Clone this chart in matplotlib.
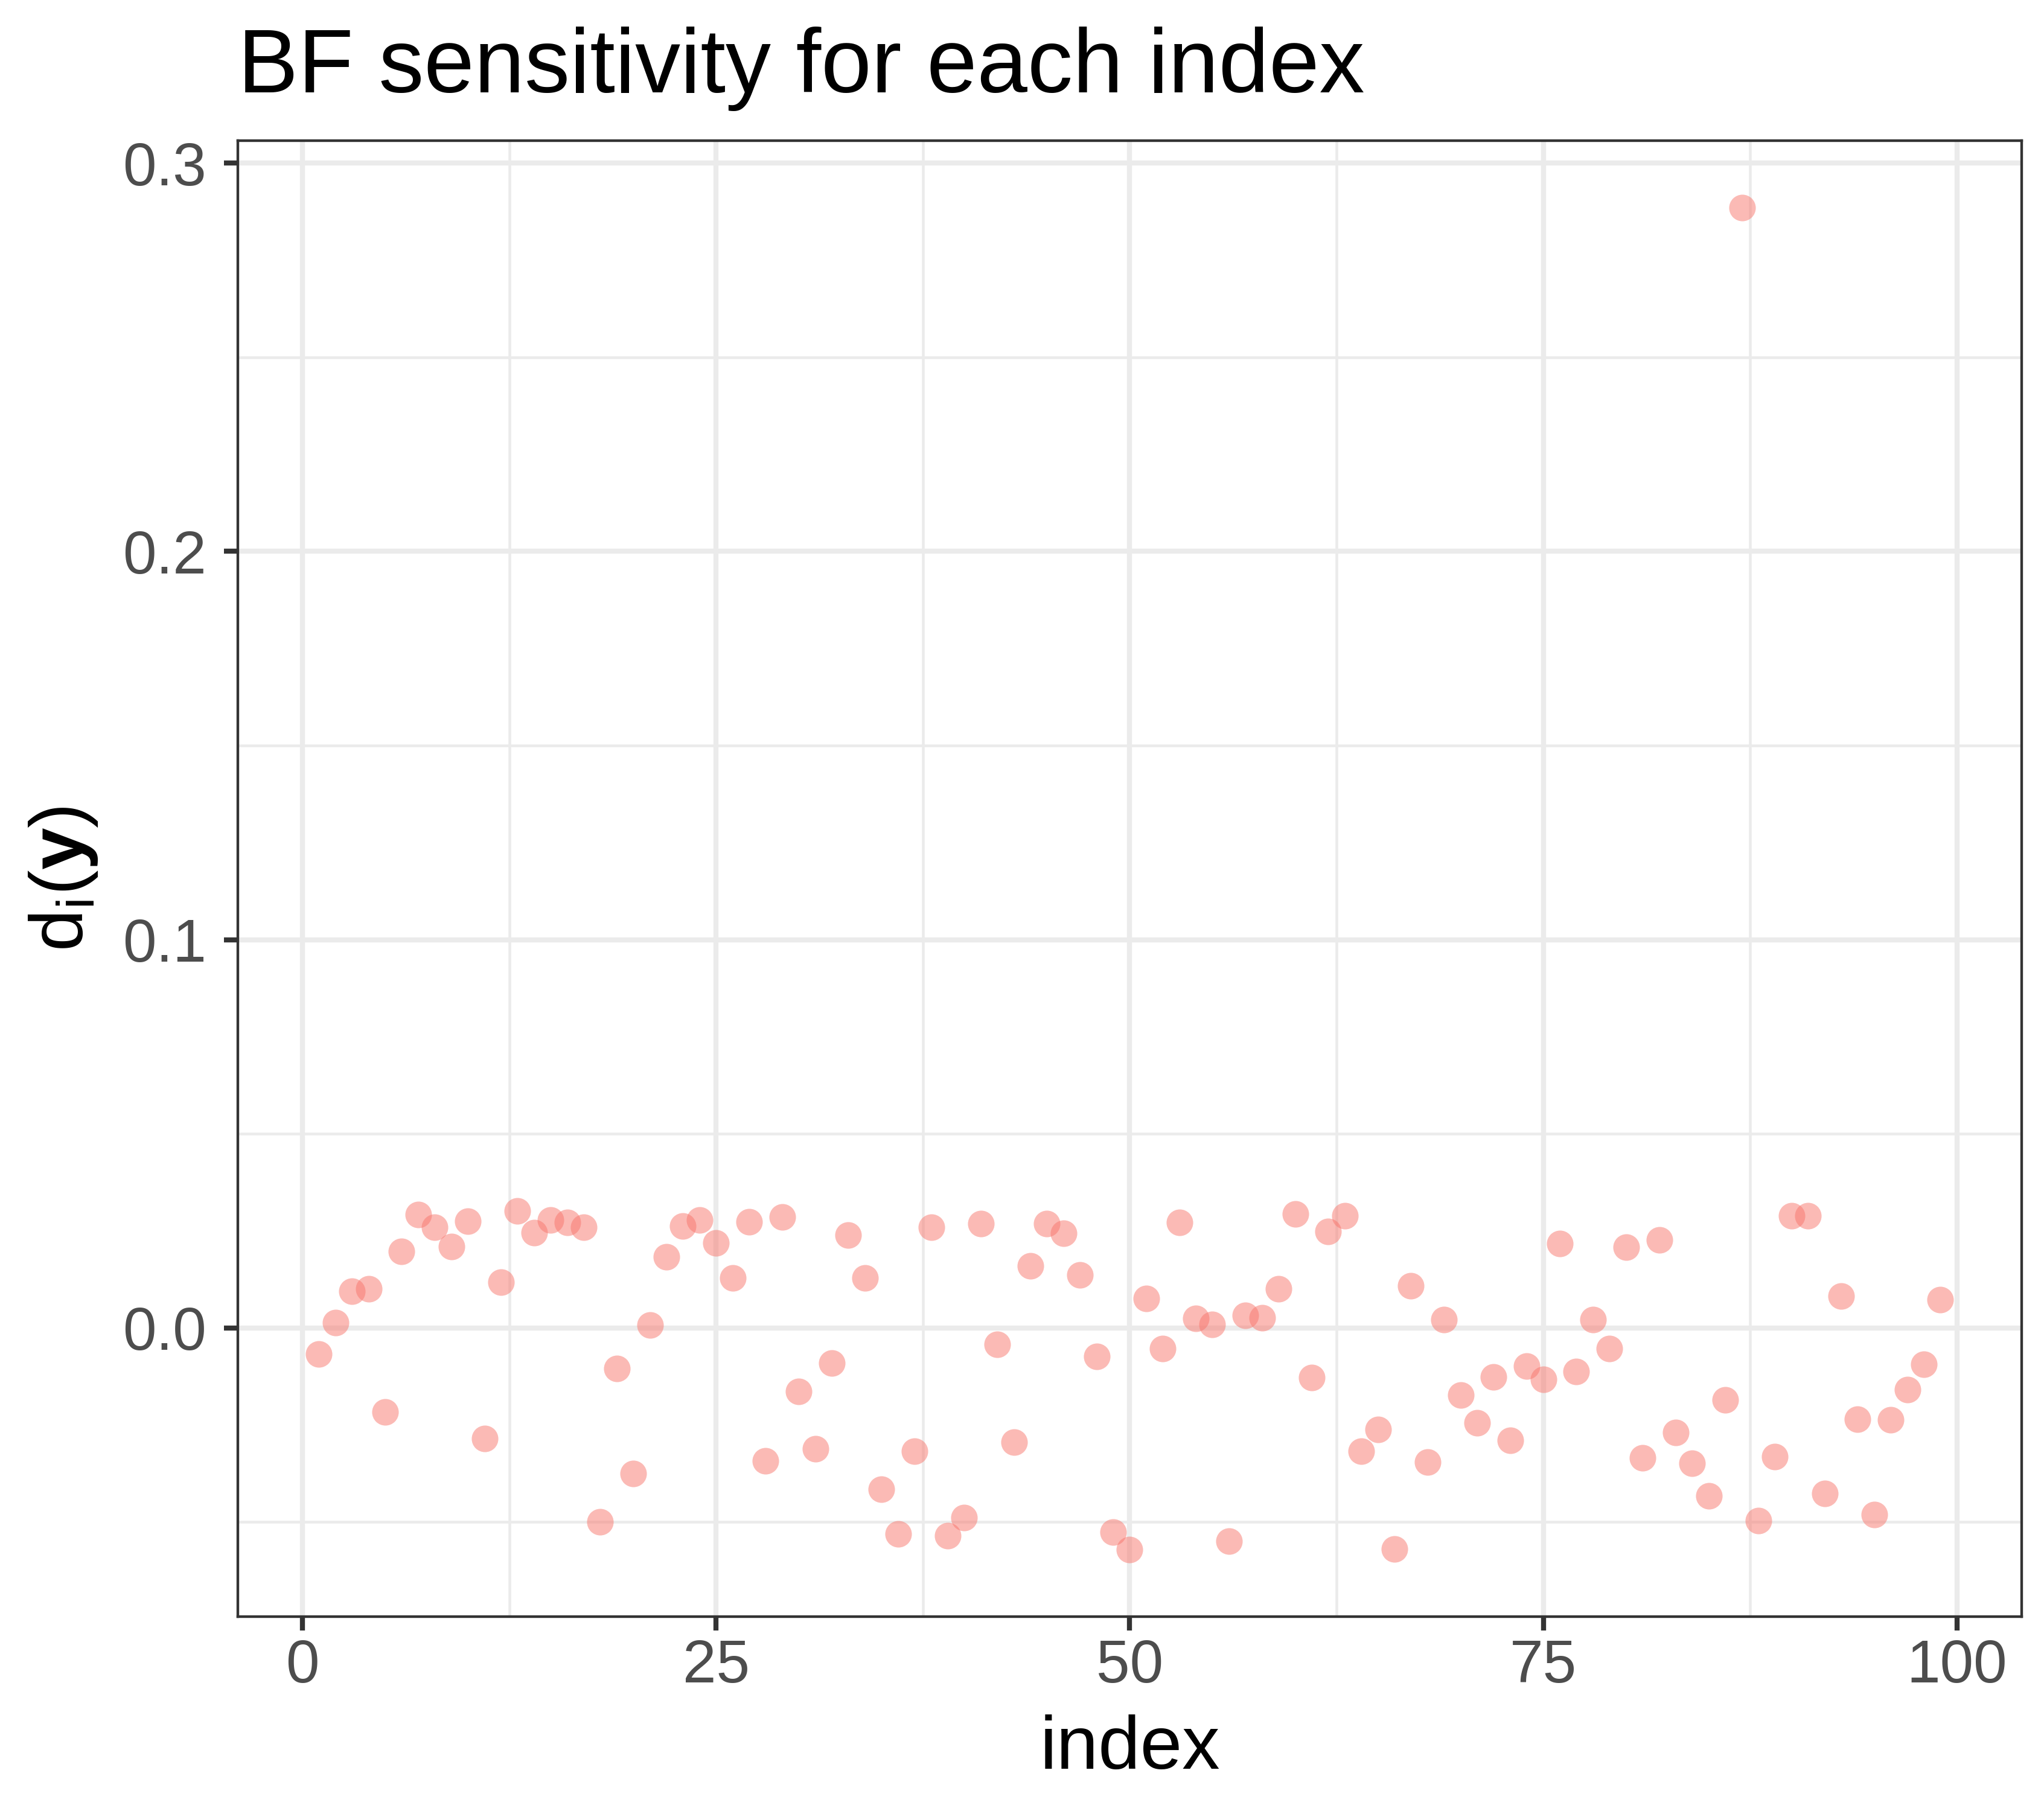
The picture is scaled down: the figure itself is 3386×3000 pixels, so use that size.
"""Scatter of BF sensitivity d_i(y) for each index, ggplot theme_bw look."""
import matplotlib
matplotlib.use("Agg")
import matplotlib.pyplot as plt
from matplotlib.ticker import AutoMinorLocator, FixedLocator, FormatStrFormatter

plt.rcParams["font.family"] = ["Liberation Sans", "DejaVu Sans"]
plt.rcParams["mathtext.fontset"] = "custom"
plt.rcParams["mathtext.rm"] = "Liberation Sans"
plt.rcParams["mathtext.it"] = "Liberation Sans:italic"
plt.rcParams["mathtext.bf"] = "Liberation Sans:bold"

# Values, one per index 1..99.
index = list(range(1, 100))
sensitivity = [
    -0.0068, 0.0014, 0.0094, 0.0100, -0.0217, 0.0197, 0.0292, 0.0260, 0.0209, 0.0275,
    -0.0285, 0.0117, 0.0301, 0.0245, 0.0278, 0.0272, 0.0259, -0.0499, -0.0105, -0.0375,
    0.0007, 0.0183, 0.0263, 0.0278, 0.0219, 0.0128, 0.0274, -0.0342, 0.0285, -0.0164,
    -0.0312, -0.0091, 0.0239, 0.0128, -0.0415, -0.0531, -0.0317, 0.0260, -0.0536, -0.0488,
    0.0269, -0.0042, -0.0294, 0.0159, 0.0269, 0.0244, 0.0136, -0.0074, -0.0526, -0.0571,
    0.0075, -0.0053, 0.0272, 0.0025, 0.0009, -0.0550, 0.0032, 0.0026, 0.0100, 0.0294,
    -0.0128, 0.0248, 0.0289, -0.0317, -0.0261, -0.0569, 0.0109, -0.0345, 0.0021, -0.0173,
    -0.0245, -0.0126, -0.0289, -0.0098, -0.0133, 0.0217, -0.0112, 0.0021, -0.0053, 0.0208,
    -0.0335, 0.0227, -0.0269, -0.0348, -0.0433, -0.0186, 0.2885, -0.0497, -0.0331, 0.0289,
    0.0289, -0.0426, 0.0082, -0.0235, -0.0481, -0.0236, -0.0159, -0.0094, 0.0073,
]
x_ticks = [0, 25, 50, 75, 100]
y_ticks = [0.0, 0.1, 0.2, 0.3]

fig = plt.figure(figsize=(3386 / 300, 3000 / 300), dpi=300)
ax = fig.add_axes([0.1164, 0.1073, 0.989 - 0.1164, 0.9223 - 0.1073])

ax.scatter(index, sensitivity, s=112, color="#F8766D", alpha=0.5,
           linewidths=0, zorder=3)

# ggplot style 5% expansion of the data range
def expand(vals, frac=0.05):
    lo, hi = min(vals), max(vals)
    pad = (hi - lo) * frac
    return lo - pad, hi + pad

ax.set_xlim(*expand(index))
ax.set_ylim(*expand(sensitivity))

ax.xaxis.set_major_locator(FixedLocator(x_ticks))
ax.yaxis.set_major_locator(FixedLocator(y_ticks))
ax.xaxis.set_minor_locator(AutoMinorLocator(2))
ax.yaxis.set_minor_locator(AutoMinorLocator(2))
ax.yaxis.set_major_formatter(FormatStrFormatter("%.1f"))

ax.set_axisbelow(True)
ax.grid(which="major", color="#EBEBEB", linewidth=2.0)
ax.grid(which="minor", color="#EBEBEB", linewidth=1.1)

for sp in ax.spines.values():
    sp.set_color("#333333")
    sp.set_linewidth(1.05)
    sp.set_zorder(4)

ax.tick_params(which="major", length=5.6, width=2.0, color="#333333",
               labelsize=24, labelcolor="#4D4D4D")
ax.tick_params(axis="x", which="major", pad=3)
ax.tick_params(axis="y", which="major", pad=7)
ax.tick_params(which="minor", length=0)

fig.text(0.1164, 1 - 153 / 3000, "BF sensitivity for each index",
         fontsize=36, color="black", ha="left", va="baseline")
fig.text((0.1164 + 0.989) / 2, 1 - 2930 / 3000, "index",
         fontsize=30, color="black", ha="center", va="baseline")
fig.text(137 / 3386, (0.1073 + 0.9223) / 2,
         r"$\mathrm{d}_{\mathrm{i}}(\mathbf{y})$",
         fontsize=30, color="black", rotation=90, rotation_mode="anchor",
         ha="center", va="baseline")

fig.savefig("out.png", dpi=300, facecolor="white")
plt.close(fig)
